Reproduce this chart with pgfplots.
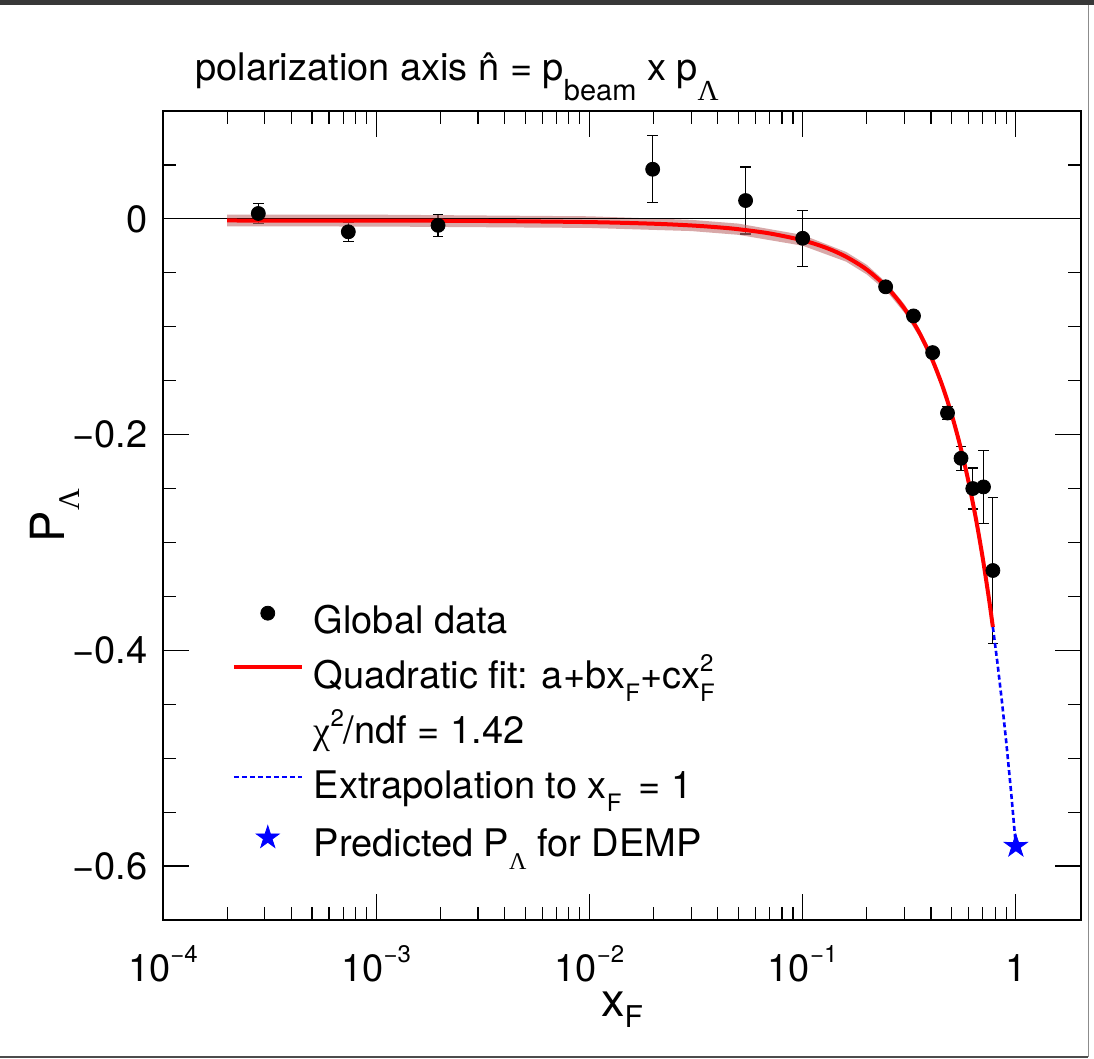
\documentclass[border=0pt]{standalone}
\usepackage{fontspec}
\setmainfont{TeX Gyre Heros}
\newfontfamily\grk{Liberation Serif}
\usepackage{pgfplots}
\pgfplotsset{compat=1.18}

% ROOT-like sizes (1 px of the reference = 0.5pt)
\newcommand{\fs}{\fontsize{19}{22}\selectfont}
\newcommand{\fsl}{\fontsize{23.5}{26}\selectfont}
\newcommand{\lsub}[3]{\raisebox{-#1}{\fontsize{#2}{#2}\selectfont #3}}
\newcommand{\lsup}[3]{\raisebox{#1}{\fontsize{#2}{#2}\selectfont #3}}

\definecolor{bandc}{RGB}{190,110,110}

% filled five-point star (ROOT marker 29)
\pgfdeclareplotmark{fstar}{%
  \pgfpathmoveto{\pgfpointpolar{90}{\pgfplotmarksize}}%
  \pgfpathlineto{\pgfpointpolar{126}{0.38\pgfplotmarksize}}%
  \pgfpathlineto{\pgfpointpolar{162}{\pgfplotmarksize}}%
  \pgfpathlineto{\pgfpointpolar{198}{0.38\pgfplotmarksize}}%
  \pgfpathlineto{\pgfpointpolar{234}{\pgfplotmarksize}}%
  \pgfpathlineto{\pgfpointpolar{270}{0.38\pgfplotmarksize}}%
  \pgfpathlineto{\pgfpointpolar{306}{\pgfplotmarksize}}%
  \pgfpathlineto{\pgfpointpolar{342}{0.38\pgfplotmarksize}}%
  \pgfpathlineto{\pgfpointpolar{18}{\pgfplotmarksize}}%
  \pgfpathlineto{\pgfpointpolar{54}{0.38\pgfplotmarksize}}%
  \pgfpathclose\pgfusepathqfillstroke}

\pgfplotsset{
  linelegend/.style={legend image code/.code={\draw[##1] (0pt,6pt) -- (34pt,6pt);}},
  dashlegend/.style={legend image code/.code={\draw[##1, line width=1pt] (0pt,6pt) -- (34pt,6pt);}},
  marklegend/.style={legend image code/.code={\draw[##1] plot coordinates {(17pt,#1)};}},
}

\begin{document}
\begin{tikzpicture}
\begin{axis}[
    name=ax, at={(0,0)}, anchor=south west,
    scale only axis, width=459pt, height=404.5pt,
    xmode=log, xmin=1e-4, xmax=2.02,
    ymin=-0.65, ymax=0.1,
    xtick={1e-4,1e-3,1e-2,1e-1,1},
    xticklabels={10\lsup{9.6pt}{12}{−4}, 10\lsup{9.6pt}{12}{−3},
                 10\lsup{9.6pt}{12}{−2}, 10\lsup{9.6pt}{12}{−1}, 1},
    minor xtick={2e-4,3e-4,4e-4,5e-4,6e-4,7e-4,8e-4,9e-4,
                 2e-3,3e-3,4e-3,5e-3,6e-3,7e-3,8e-3,9e-3,
                 2e-2,3e-2,4e-2,5e-2,6e-2,7e-2,8e-2,9e-2,
                 0.2,0.3,0.4,0.5,0.6,0.7,0.8,0.9},
    ytick={0,-0.2,-0.4,-0.6},
    yticklabels={0,−0.2,−0.4,−0.6},
    minor ytick={0.05,-0.05,-0.1,-0.15,-0.25,-0.3,-0.35,-0.45,-0.5,-0.55,-0.65},
    xtick pos=both, ytick pos=both,
    xticklabel pos=bottom, yticklabel pos=left,
    tick align=inside,
    major tick length=13pt, minor tick length=6.5pt,
    every tick/.style={black, line width=0.6pt},
    axis line style={line width=1pt},
    tick label style={font=\fs},
    xticklabel style={anchor=base, yshift=-31pt},
    yticklabel style={anchor=east, inner sep=0pt, xshift=-7.5pt},
    xlabel={x\lsub{5.5pt}{15}{F}},
    ylabel={P\lsub{7.5pt}{15}{\grk Λ}},
    label style={font=\fsl},
    x label style={at={(axis description cs:0.5,-0.1199)}, anchor=base},
    y label style={at={(axis description cs:-0.1068,0.5)}, anchor=base},
    legend cell align=left,
    legend style={at={(axis description cs:0.0745,0.389)}, anchor=north west,
        draw=none, fill=none, inner sep=0pt, font=\fs,
        row sep=9pt, column sep=5pt,
        nodes={inner sep=0pt, text height=14pt, text depth=4.5pt}},
]

% Global data with uncertainties
\addplot[only marks, mark=*, mark size=3.5pt, black, marklegend=5.5pt,
    error bars/.cd, y dir=both, y explicit,
    error bar style={line width=0.6pt},
    error mark options={rotate=90, mark size=2.6pt, line width=0.6pt}]
  table[x=x, y=y, y error=ey] {
x y ey
2.8e-4 0.005 0.009
7.4e-4 -0.012 0.009
1.95e-3 -0.006 0.010
0.0198 0.046 0.031
0.054 0.017 0.031
0.100 -0.018 0.026
0.245 -0.063 0.004
0.331 -0.090 0.004
0.407 -0.124 0.004
0.478 -0.180 0.006
0.553 -0.222 0.011
0.628 -0.250 0.019
0.705 -0.2485 0.034
0.780 -0.326 0.068
};
\addlegendentry{Global data}

% fit uncertainty band
\addplot[fill=bandc, fill opacity=0.6, draw=none, forget plot] coordinates {
(2e-4,0.0040) (1e-3,0.0039) (1e-2,0.0024) (0.03,-0.0009) (0.05,-0.0044)
(0.1,-0.0149) (0.16,-0.0307) (0.2,-0.0426) (0.25,-0.0600) (0.3,-0.0791)
(0.35,-0.1004) (0.4,-0.1239) (0.45,-0.1496) (0.5,-0.1775) (0.55,-0.2076)
(0.6,-0.2399) (0.65,-0.2744) (0.7,-0.3111) (0.75,-0.3500) (0.78,-0.3744)
(0.78,-0.3824) (0.75,-0.3580) (0.7,-0.3191) (0.65,-0.2824) (0.6,-0.2479)
(0.55,-0.2156) (0.5,-0.1855) (0.45,-0.1576) (0.4,-0.1319) (0.35,-0.1084)
(0.3,-0.0871) (0.25,-0.0680) (0.2,-0.0516) (0.16,-0.0397) (0.1,-0.0249)
(0.05,-0.0148) (0.03,-0.0113) (1e-2,-0.0084) (1e-3,-0.0071) (2e-4,-0.0070)
} -- cycle;

% zero line
\addplot[black, line width=0.6pt, forget plot] coordinates {(1e-4,0) (2.02,0)};

% quadratic fit
\addplot[red, line width=2pt, smooth, linelegend]
  coordinates {
(2e-4,-0.0015) (5e-4,-0.0016) (1e-3,-0.0016) (3e-3,-0.0019) (1e-2,-0.0030)
(0.02,-0.0045) (0.03,-0.0061) (0.04,-0.0078) (0.05,-0.0096) (0.07,-0.0135)
(0.1,-0.0199) (0.13,-0.0271) (0.16,-0.0352) (0.2,-0.0471) (0.25,-0.0640)
(0.3,-0.0831) (0.35,-0.1044) (0.4,-0.1279) (0.45,-0.1536) (0.5,-0.1815)
(0.55,-0.2116) (0.6,-0.2439) (0.65,-0.2784) (0.7,-0.3151) (0.75,-0.3540)
(0.78,-0.3784)
};
\addlegendentry{Quadratic fit: a+bx\lsub{6.5pt}{12}{F}+cx\rlap{\lsub{6.5pt}{12}{F}}\lsup{8.5pt}{12}{2}}

\addlegendimage{empty legend}
\addlegendentry{{\grk χ}\lsup{8.5pt}{12}{2}/ndf = 1.42}

% extrapolation to x_F = 1
\addplot[blue, line width=1.3pt, dash pattern=on 2.5pt off 1.5pt, dashlegend]
  coordinates {
(0.78,-0.3784) (0.82,-0.4122) (0.86,-0.4473) (0.9,-0.4839) (0.95,-0.5316) (1.0,-0.5815)
};
\addlegendentry{Extrapolation to x\lsub{6.5pt}{12}{F} \,= 1}

% predicted value for DEMP
\addplot[only marks, blue, mark=fstar, mark size=6pt, marklegend=4.5pt]
  coordinates {(1.0,-0.5815)};
\addlegendentry{Predicted P\lsub{6.5pt}{12}{\grk Λ} for DEMP}

\end{axis}

% title
\node[anchor=base west, font=\fs, inner sep=0pt] at ([shift={(16pt,15.5pt)}]ax.north west)
  {polarization axis \^{n} = p\lsub{10pt}{14.5}{beam} x p\lsub{10pt}{14.5}{\grk Λ}};

% window frame of the screenshot
\fill[black!78] (-81.5pt,457.5pt) rectangle (465.5pt,460pt);
\draw[black!45, line width=0.5pt] (462.5pt,457.5pt) -- (462.5pt,-68.5pt);
\draw[black!70, line width=0.6pt] (-81.5pt,-68.5pt) -- (462.5pt,-68.5pt);

\pgfresetboundingbox
\path[use as bounding box] (-81.5pt,-69.5pt) rectangle (465.5pt,460pt);
\end{tikzpicture}
\end{document}
